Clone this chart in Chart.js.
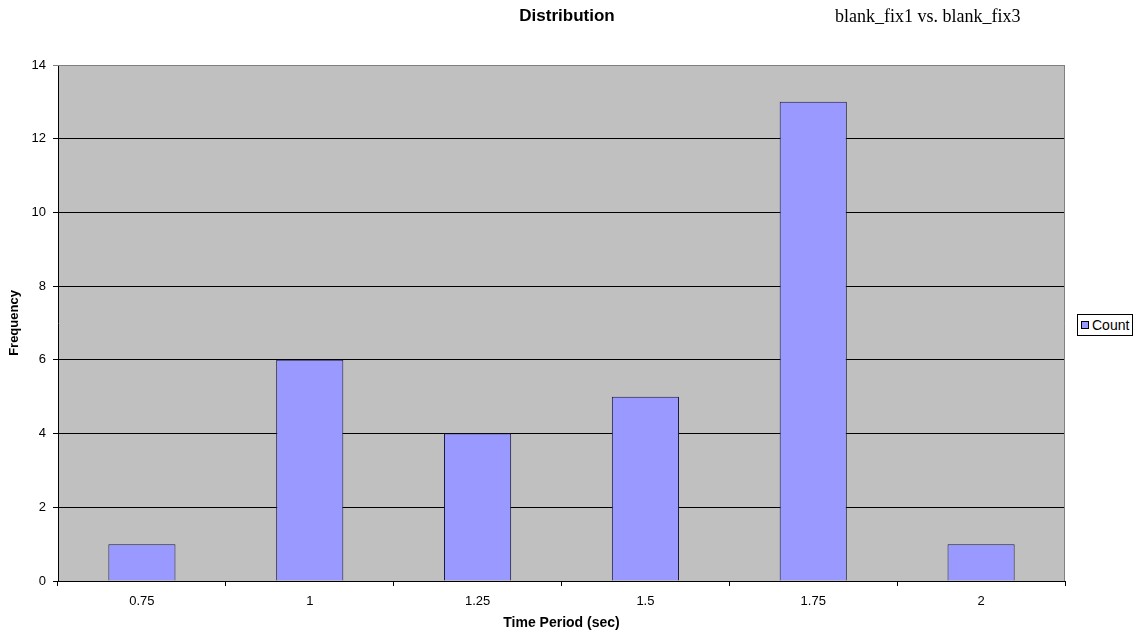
<!DOCTYPE html>
<html>
<head>
<meta charset="utf-8">
<script src="https://cdn.jsdelivr.net/npm/chart.js@4/dist/chart.umd.min.js"></script>
<style>
    body { margin: 0; background: #fff; }
    #wrap { position: relative; width: 1138px; height: 638px; }
    #title { position: absolute; left: 467px; width: 200px; top: 6px; text-align: center;
             font: bold 17px "Liberation Sans", Arial, sans-serif; }
    #subtitle { position: absolute; left: 835px; top: 6px;
                font: 18px "Liberation Serif", "Times New Roman", serif; }
    #legend { position: absolute; left: 1077px; top: 314px; width: 54px; height: 20px;
              border: 1px solid #000; background: #fff; white-space: nowrap;
              font: 14px "Liberation Sans", Arial, sans-serif; line-height: 20px; }
    #legend .sw { display: inline-block; width: 6px; height: 6px; border: 1px solid #000;
                  margin: 0 3px 0 3px; vertical-align: 1px; }
</style>
</head>
<body>
<div id="wrap">
    <canvas id="distChart" width="1138" height="638"></canvas>
    <div id="title">Distribution</div>
    <div id="subtitle">blank_fix1 vs. blank_fix3</div>
    <div id="legend"></div>
</div>
<script>
const periods = ['0.75', '1', '1.25', '1.5', '1.75', '2'];
const counts = [1, 6, 4, 5, 13, 1];
const seriesName = 'Count';
const barColor = '#9999FF';

// legend box on the right
document.getElementById('legend').innerHTML =
    '<span class="sw" style="background:' + barColor + '"></span>' + seriesName;

// gray plot background with a gray frame on top/right
const plotBackground = {
    id: 'plotBackground',
    beforeDraw: function (chart) {
        const a = chart.chartArea;
        const ctx = chart.ctx;
        ctx.save();
        ctx.fillStyle = '#C0C0C0';
        ctx.fillRect(a.left, a.top, a.right - a.left, a.bottom - a.top);
        ctx.restore();
    },
    afterDraw: function (chart) {
        const a = chart.chartArea;
        const ctx = chart.ctx;
        ctx.save();
        ctx.strokeStyle = '#808080';
        ctx.lineWidth = 1;
        ctx.beginPath();
        ctx.moveTo(a.left, a.top + 0.5);
        ctx.lineTo(a.right - 0.5, a.top + 0.5);
        ctx.lineTo(a.right - 0.5, a.bottom);
        ctx.stroke();
        ctx.restore();
    }
};

const family = '"Liberation Sans", Arial, sans-serif';
const tickFont = { family: family, size: 13 };

new Chart(document.getElementById('distChart').getContext('2d'), {
    type: 'bar',
    data: {
        labels: periods,
        datasets: [{
            label: seriesName,
            data: counts,
            backgroundColor: barColor,
            borderColor: '#1a1a40',
            borderWidth: 1,
            categoryPercentage: 1.0,
            barPercentage: 0.4
        }]
    },
    options: {
        responsive: false,
        animation: false,
        layout: { padding: { top: 65, right: 73, left: 0, bottom: 0 } },
        scales: {
            y: {
                min: 0,
                max: 14,
                ticks: { stepSize: 2, color: '#000', font: tickFont, padding: 7 },
                grid: {
                    color: function (c) { return c.tick && c.tick.value === 14 ? '#808080' : '#000'; },
                    tickLength: 5
                },
                border: { color: '#000' },
                title: {
                    display: true,
                    text: 'Frequency',
                    color: '#000',
                    font: { family: family, size: 13, weight: 'bold' },
                    padding: { top: 7, bottom: 0 }
                },
                afterFit: function (scale) { scale.width = 58; }
            },
            x: {
                ticks: { color: '#000', font: tickFont, padding: 8 },
                grid: { drawOnChartArea: false, offset: true, tickLength: 5, color: '#000' },
                border: { color: '#000' },
                title: {
                    display: true,
                    text: 'Time Period (sec)',
                    color: '#000',
                    font: { family: family, size: 14, weight: 'bold' },
                    padding: { top: 4, bottom: 6 }
                },
                afterFit: function (scale) { scale.height = 57; }
            }
        },
        plugins: {
            legend: { display: false },
            tooltip: { enabled: false }
        }
    },
    plugins: [plotBackground]
});
</script>
</body>
</html>
